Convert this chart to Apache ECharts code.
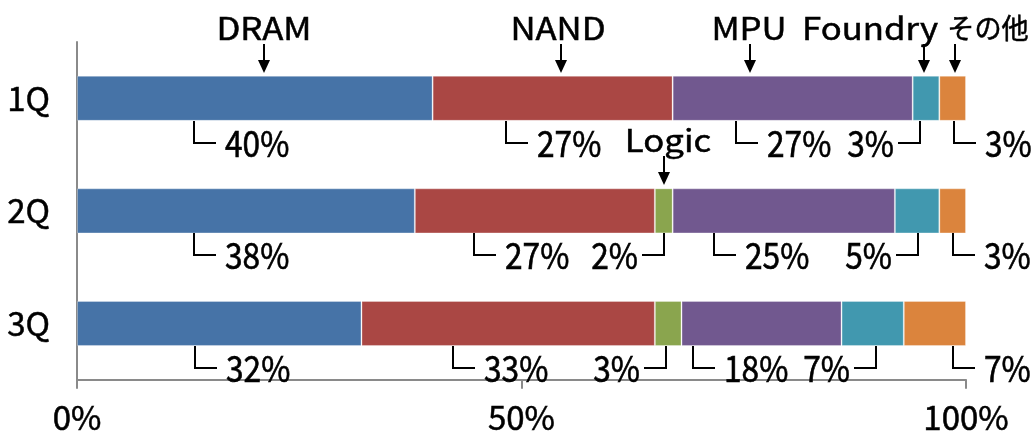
<!DOCTYPE html>
<html>
<head>
<meta charset="utf-8">
<script src="https://cdn.jsdelivr.net/npm/echarts@6/dist/echarts.min.js"></script>
<style>
html, body { margin: 0; padding: 0; background: #fff; }
#chart { width: 1034px; height: 434px; }
</style>
</head>
<body>
<div id="chart"></div>
<script>
const quarters = ['1Q', '2Q', '3Q'];
const names = ['DRAM', 'NAND', 'Logic', 'MPU', 'Foundry', 'その他'];
const dram = [40, 38, 32];
const nand = [27, 27, 33];
const logic = [0, 2, 3];
const mpu = [27, 25, 18];
const foundry = [3, 5, 7];
const other = [3, 3, 7];
const xTicks = [0, 50, 100];

const values = [dram, nand, logic, mpu, foundry, other];
const colors = ['#4673a7', '#aa4744', '#8aa54e', '#71588f', '#4198af', '#db843d'];
const FONT = '"Noto Sans CJK JP", "Noto Sans", sans-serif';

// leader line: offset in px from the segment centre, text right (r) or left (l) of it
const leader = [
  { dx: [-61, -52, -24], side: 'r' },
  { dx: [-47, -61, -55], side: 'r' },
  { dx: [0, 0, -2], side: 'l' },
  { dx: [-57, -70, -69], side: 'r' },
  { dx: [-6, 1, 3], side: 'l' },
  { dx: [1, 0, 18], side: 'r' }
];
// name tags with arrows: which bar, arrow offset, text offset
const tags = [
  { row: 0, dx: 9, tx: 0 },
  { row: 0, dx: 8, tx: -3 },
  { row: 1, dx: 0, tx: 4 },
  { row: 0, dx: -43, tx: -1 },
  { row: 0, dx: -2, tx: -54 },
  { row: 0, dx: 2, tx: 33 }
];

const calloutData = [];
const tagData = [];
const starts = quarters.map(() => 0);
values.forEach((arr, i) => {
  arr.forEach((v, r) => {
    const s = starts[r];
    starts[r] += v;
    if (v > 0) calloutData.push([s, s + v, r, v, leader[i].dx[r], leader[i].side === 'r' ? 1 : 0]);
    if (tags[i].row === r) tagData.push([s, s + v, r, i, tags[i].dx, tags[i].tx]);
  });
});

function drawCallout(params, api) {
  const mid = api.coord([(api.value(0) + api.value(1)) / 2, api.value(2)]);
  const half = api.size([0, 1])[1] * 0.2;
  const x = Math.round(mid[0] + api.value(4));
  const y0 = Math.round(mid[1] + half);
  const y1 = y0 + 22;
  const right = api.value(5) === 1;
  const x2 = right ? x + 22 : x - 22;
  return {
    type: 'group',
    children: [
      { type: 'polyline', shape: { points: [[x, y0], [x, y1], [x2, y1]] },
        style: { stroke: '#000', lineWidth: 2, fill: null } },
      { type: 'text', x: right ? x2 + 9 : x2 - 4, y: y1, scaleX: 0.88,
        style: { text: api.value(3) + '%', font: '36px ' + FONT, fill: '#000', stroke: '#000', lineWidth: 0.6,
          align: right ? 'left' : 'right', verticalAlign: 'middle' } }
    ]
  };
}

function drawTag(params, api) {
  const mid = api.coord([(api.value(0) + api.value(1)) / 2, api.value(2)]);
  const half = api.size([0, 1])[1] * 0.2;
  const x = Math.round(mid[0] + api.value(4));
  const tip = Math.round(mid[1] - half) - 3;
  const top = tip - 29;
  const name = names[api.value(3)];
  const latin = /^[\x00-\x7f]+$/.test(name);
  return {
    type: 'group',
    children: [
      { type: 'line', shape: { x1: x, y1: top, x2: x, y2: tip - 8 }, style: { stroke: '#000', lineWidth: 2 } },
      { type: 'polygon', shape: { points: [[x - 6, tip - 13], [x + 6, tip - 13], [x, tip]] }, style: { fill: '#000' } },
      { type: 'text', x: x + api.value(5), y: top - 16, scaleX: latin ? 1.12 : 0.97,
        style: { text: name, font: (latin ? '31px ' : '28px ') + FONT, fill: '#000', stroke: '#000', lineWidth: 0.5,
          align: 'center', verticalAlign: 'middle' } }
    ]
  };
}

const chart = echarts.init(document.getElementById('chart'));
const axisColor = '#8a8a8a';

const series = names.map((n, i) => ({
  name: n,
  type: 'bar',
  stack: 'total',
  barCategoryGap: '60%',
  data: values[i],
  itemStyle: { color: colors[i], borderColor: 'rgba(255,255,255,0.3)', borderWidth: 1 }
}));
series.push({
  type: 'custom', renderItem: drawCallout, data: calloutData,
  encode: { x: [0, 1], y: 2 }, clip: false, silent: true, z: 10
});
series.push({
  type: 'custom', renderItem: drawTag, data: tagData,
  encode: { x: [0, 1], y: 2 }, clip: false, silent: true, z: 10
});

chart.setOption({
  animation: false,
  backgroundColor: '#fff',
  grid: { left: 77, right: 68, top: 42, bottom: 51 },
  xAxis: {
    type: 'value',
    min: xTicks[0],
    max: xTicks[xTicks.length - 1],
    interval: xTicks[1] - xTicks[0],
    splitLine: { show: false },
    axisLine: { show: true, lineStyle: { color: axisColor, width: 2 } },
    axisTick: { show: true, length: 9, lineStyle: { color: axisColor, width: 2 } },
    axisLabel: { formatter: '{value}%', color: '#000', fontSize: 33, fontFamily: FONT, margin: 21,
      textBorderColor: '#000', textBorderWidth: 0.5 }
  },
  yAxis: {
    type: 'category',
    data: quarters,
    inverse: true,
    axisLine: { lineStyle: { color: axisColor, width: 2 } },
    axisTick: { length: 9, lineStyle: { color: axisColor, width: 2 } },
    axisLabel: { color: '#000', fontSize: 33, fontFamily: FONT, margin: 27,
      textBorderColor: '#000', textBorderWidth: 0.5 }
  },
  series: series
});
</script>
</body>
</html>
